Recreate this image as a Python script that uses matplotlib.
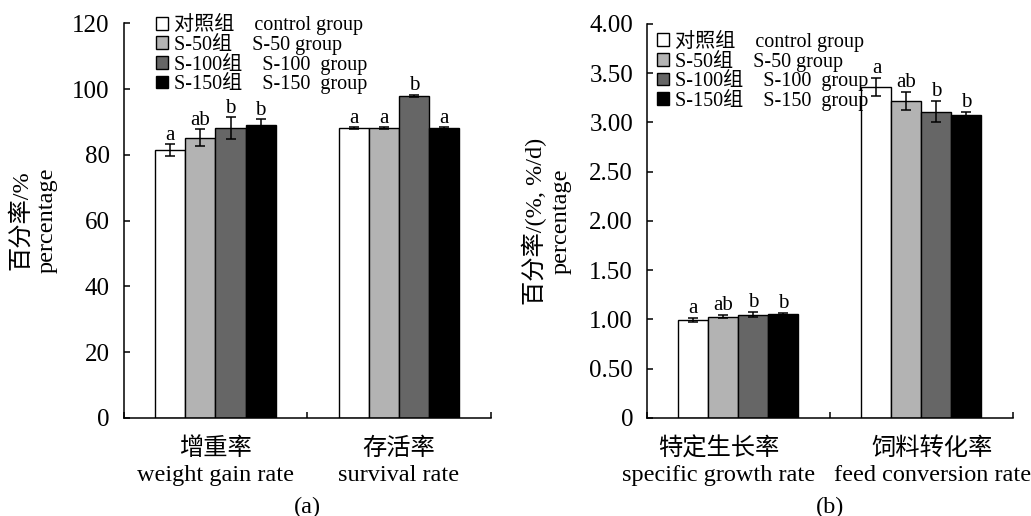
import matplotlib
matplotlib.use("Agg")
import matplotlib.pyplot as plt
import numpy as np
from matplotlib.ticker import FixedLocator, FuncFormatter

plt.rcParams['font.family'] = ['Liberation Serif', 'Noto Sans CJK SC', 'DejaVu Sans']
plt.rcParams['axes.unicode_minus'] = False

groups = ["对照组    control group", "S-50组    S-50 group",
          "S-100组    S-100  group", "S-150组    S-150  group"]
colors = ["#ffffff", "#b3b3b3", "#666666", "#000000"]

# panel (a)
cats_a = ["增重率\nweight gain rate", "存活率\nsurvival rate"]
vals_a = [[81.5, 88.1], [85.2, 88.0], [88.2, 98.0], [89.0, 88.0]]
errs_a = [[1.8, 0.3], [2.5, 0.3], [3.3, 0.3], [1.8, 0.3]]
lets_a = [["a", "a"], ["ab", "a"], ["b", "b"], ["b", "a"]]

# panel (b)
cats_b = ["特定生长率\nspecific growth rate", "饲料转化率\nfeed conversion rate"]
vals_b = [[0.99, 3.36], [1.03, 3.22], [1.05, 3.11], [1.06, 3.08]]
errs_b = [[0.02, 0.09], [0.02, 0.09], [0.03, 0.11], [0.01, 0.03]]
lets_b = [["a", "a"], ["ab", "ab"], ["b", "b"], ["b", "b"]]

fig = plt.figure(figsize=(10.31, 5.16), dpi=100)
axA = fig.add_axes([0.120, 0.190, 0.356, 0.765])
axB = fig.add_axes([0.6275, 0.190, 0.355, 0.7635])

bw = 0.164

def draw(ax, cats, vals, errs, lets, ymax, yticks, fmt, ylabel, off, legpos, lx, labshift):
    x = np.arange(len(cats))
    handles = []
    for i in range(4):
        xs = x + (i - 1.5) * bw
        b = ax.bar(xs, vals[i], bw, color=colors[i], edgecolor='black', linewidth=1.0,
                   yerr=errs[i], capsize=3.5, error_kw=dict(elinewidth=1.1, capthick=1.1, ecolor='black'),
                   label=groups[i], zorder=2)
        handles.append(b)
        for j in range(len(cats)):
            ax.text(xs[j], vals[i][j] + errs[i][j] + off, lets[i][j], ha='center', va='bottom',
                    fontsize=15)
    ax.set_xlim(-0.5, 1.5)
    ax.set_ylim(0, ymax)
    ax.spines['top'].set_visible(False)
    ax.spines['right'].set_visible(False)
    for s in ['left', 'bottom']:
        ax.spines[s].set_linewidth(1.1)
    ax.set_yticks(yticks)
    ax.yaxis.set_major_formatter(FuncFormatter(fmt))
    ax.tick_params(axis='y', direction='in', length=4, width=1.1, labelsize=18, pad=10)
    ax.set_xticks(x + np.array(labshift))
    ax.set_xticklabels(cats, fontsize=17.5, linespacing=1.3)
    ax.tick_params(axis='x', which='major', length=0, pad=14)
    ax.xaxis.set_minor_locator(FixedLocator([-0.5, 0.5, 1.5]))
    ax.tick_params(axis='x', which='minor', direction='in', length=4, width=1.1)
    ax.set_ylabel(ylabel, fontsize=17.5, linespacing=1.25)
    ax.yaxis.set_label_coords(lx, 0.5)
    ax.legend(handles=handles, loc='upper left', bbox_to_anchor=legpos, frameon=False,
              fontsize=14.5, handlelength=0.6, handleheight=0.6, handletextpad=0.3,
              labelspacing=-0.12, borderpad=0, borderaxespad=0)

draw(axA, cats_a, vals_a, errs_a, lets_a, 120, [0, 20, 40, 60, 80, 100, 120],
     lambda v, p: f"{int(v)}", "百分率/%\npercentage", -0.2, (0.087, 1.025), -0.18, [0, 0])
draw(axB, cats_b, vals_b, errs_b, lets_b, 4.0, [0, 0.5, 1.0, 1.5, 2.0, 2.5, 3.0, 3.5, 4.0],
     lambda v, p: "0" if v == 0 else f"{v:.2f}", "百分率/(%, %/d)\npercentage", 0.0,
     (0.027, 0.985), -0.205, [-0.11, 0.06])

fig.text(0.2978, 0.0174, "(a)", ha='center', va='center', fontsize=17.5)
fig.text(0.805, 0.0174, "(b)", ha='center', va='center', fontsize=17.5)

fig.savefig("out.png", dpi=100)
